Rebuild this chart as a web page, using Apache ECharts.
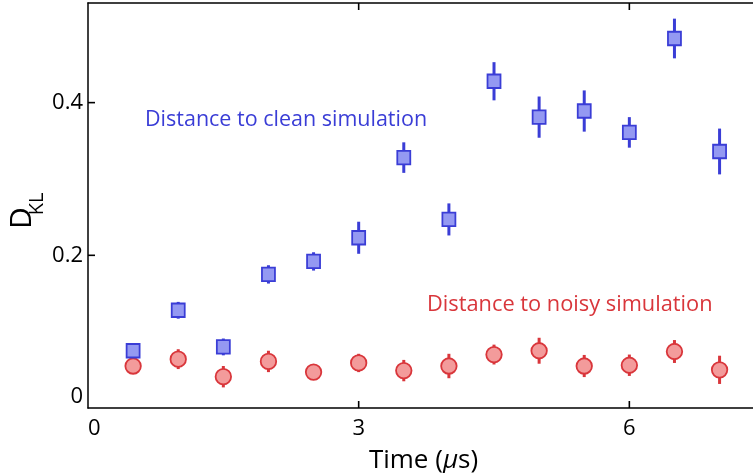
<!DOCTYPE html>
<html>
<head>
<meta charset="utf-8">
<script src="https://cdn.jsdelivr.net/npm/echarts@6/dist/echarts.min.js"></script>
<style>html,body{margin:0;padding:0;background:#fff}#c{width:753px;height:473px}</style>
</head>
<body>
<div id="c"></div>
<script>
var times = [0.5, 1, 1.5, 2, 2.5, 3, 3.5, 4, 4.5, 5, 5.5, 6, 6.5, 7];
var cleanVals = [0.075, 0.128, 0.080, 0.175, 0.192, 0.223, 0.328, 0.247, 0.428, 0.381, 0.389, 0.361, 0.484, 0.336];
var cleanErr = [0.010, 0.011, 0.011, 0.012, 0.012, 0.021, 0.020, 0.021, 0.025, 0.027, 0.027, 0.020, 0.026, 0.030];
var noisyVals = [0.055, 0.064, 0.041, 0.061, 0.047, 0.059, 0.049, 0.055, 0.070, 0.075, 0.055, 0.056, 0.074, 0.050];
var noisyErr = [0.008, 0.013, 0.014, 0.014, 0.008, 0.012, 0.014, 0.016, 0.013, 0.017, 0.0145, 0.014, 0.015, 0.0185];
var xTicks = [0, 3, 6];
var yTicks = [0, 0.2, 0.4];

var FONT = '"Open Sans", sans-serif';
var BLUE = '#3a3dd6', BLUE_FILL = '#9499f2';
var RED = '#d9363b', RED_FILL = '#f39b9b';
var TICK_LEN = 7;

function pts(v) { return times.map(function (t, i) { return [t, v[i]]; }); }
function errData(v, e) { return times.map(function (t, i) { return [t, v[i] - e[i], v[i] + e[i]]; }); }
function errSeries(v, e, color) {
  return {
    type: 'custom',
    data: errData(v, e),
    encode: { x: 0, y: [1, 2] },
    z: 1,
    renderItem: function (params, api) {
      var a = api.coord([api.value(0), api.value(1)]);
      var b = api.coord([api.value(0), api.value(2)]);
      return { type: 'line', shape: { x1: a[0], y1: a[1], x2: b[0], y2: b[1] },
               style: { stroke: color, lineWidth: 3 } };
    }
  };
}

var tickSeries = [{
  type: 'custom', silent: true, clip: false, z: 5,
  data: xTicks.filter(function (v) { return v > 0; }).map(function (v) { return [v, 0]; }),
  encode: { x: 0, y: 1 },
  renderItem: function (params, api) {
    var p = api.coord([api.value(0), 0]);
    var top = params.coordSys.y;
    return { type: 'group', children: [
      { type: 'line', shape: { x1: p[0], y1: p[1], x2: p[0], y2: p[1] - TICK_LEN }, style: { stroke: '#000', lineWidth: 1.6 } },
      { type: 'line', shape: { x1: p[0], y1: top, x2: p[0], y2: top + TICK_LEN }, style: { stroke: '#000', lineWidth: 1.6 } }
    ] };
  }
}, {
  type: 'custom', silent: true, clip: false, z: 5,
  data: yTicks.filter(function (v) { return v > 0; }).map(function (v) { return [0, v]; }),
  encode: { x: 0, y: 1 },
  renderItem: function (params, api) {
    var p = api.coord([0, api.value(1)]);
    return { type: 'line', shape: { x1: p[0], y1: p[1], x2: p[0] + TICK_LEN, y2: p[1] }, style: { stroke: '#000', lineWidth: 1.6 } };
  }
}];

var chart = echarts.init(document.getElementById('c'));
chart.setOption({
  animation: false,
  grid: { left: 88, top: 3, right: -6, bottom: 65, containLabel: false, outerBoundsMode: 'none' },
  xAxis: [{
    type: 'value', min: 0, max: 7.437, interval: 3,
    axisLine: { show: true, onZero: false, lineStyle: { color: '#000', width: 1.5 } },
    axisTick: { show: false },
    splitLine: { show: false },
    axisLabel: { fontFamily: FONT, fontSize: 22, color: '#000', margin: 10,
                 alignMinLabel: 'left', customValues: xTicks },
    name: '{n|Time (}{i|μ}{n|s)}', nameLocation: 'middle', nameGap: 40,
    nameTextStyle: { rich: { n: { fontFamily: FONT, fontSize: 26, color: '#000' },
                             i: { fontFamily: FONT, fontSize: 26, color: '#000', fontStyle: 'italic' } } }
  }, {
    type: 'value', position: 'top', min: 0, max: 7.437, interval: 3,
    axisLine: { show: true, onZero: false, lineStyle: { color: '#000', width: 1.5 } },
    axisTick: { show: false },
    axisLabel: { show: false }, splitLine: { show: false }
  }],
  yAxis: {
    type: 'value', min: 0, max: 0.5305, interval: 0.2,
    axisLine: { show: true, onZero: false, lineStyle: { color: '#000', width: 1.5 } },
    axisTick: { show: false },
    splitLine: { show: false },
    axisLabel: { fontFamily: FONT, fontSize: 22, color: '#000', margin: 5,
                 verticalAlignMinLabel: 'bottom', customValues: yTicks,
                 formatter: function (v) { return v === 0 ? '0' : String(v); } }
  },
  graphic: [
    { type: 'text', x: 22, y: 218, rotation: Math.PI / 2,
      style: { text: 'D', fontFamily: FONT, fontSize: 30, fill: '#000', align: 'center', verticalAlign: 'middle' } },
    { type: 'text', x: 37, y: 204, rotation: Math.PI / 2,
      style: { text: 'KL', fontFamily: FONT, fontSize: 20, fill: '#000', align: 'center', verticalAlign: 'middle' } },
    { type: 'text', x: 145, y: 120,
      style: { text: 'Distance to clean simulation', fontFamily: FONT, fontSize: 21.5, fill: BLUE, align: 'left', verticalAlign: 'middle' } },
    { type: 'text', x: 427, y: 305,
      style: { text: 'Distance to noisy simulation', fontFamily: FONT, fontSize: 21.8, fill: RED, align: 'left', verticalAlign: 'middle' } }
  ],
  series: [
    errSeries(noisyVals, noisyErr, RED),
    errSeries(cleanVals, cleanErr, BLUE),
    { type: 'scatter', data: pts(noisyVals), symbol: 'circle', symbolSize: 15.5, z: 2,
      itemStyle: { color: RED_FILL, borderColor: RED, borderWidth: 1.8, opacity: 1 } },
    { type: 'scatter', data: pts(cleanVals), symbol: 'rect', symbolSize: [13, 13.5], z: 2,
      itemStyle: { color: BLUE_FILL, borderColor: BLUE, borderWidth: 1.8, opacity: 1 } }
  ].concat(tickSeries)
});
</script>
</body>
</html>
